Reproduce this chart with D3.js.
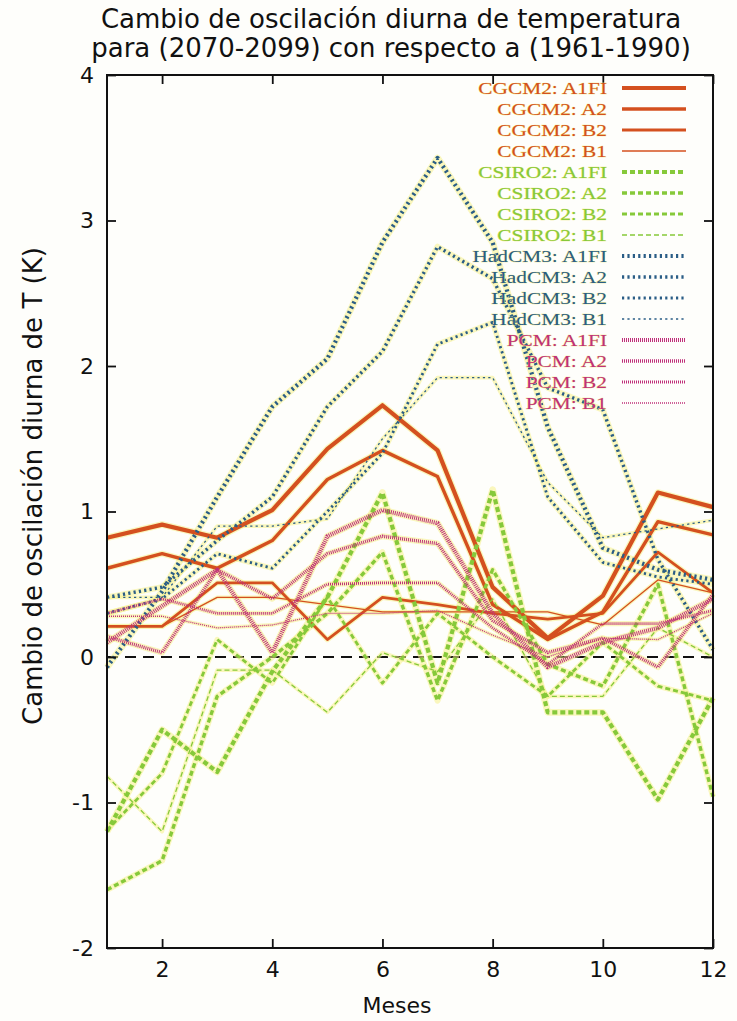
<!DOCTYPE html>
<html>
<head>
<meta charset="utf-8">
<script src="https://cdn.jsdelivr.net/npm/d3@7"></script>
<style>
  html, body { margin: 0; padding: 0; background: #fefefb; }
  svg { display: block; }
</style>
</head>
<body>
<svg id="chart" width="737" height="1021"></svg>
<script>
// Months on the x axis
const months = [1, 2, 3, 4, 5, 6, 7, 8, 9, 10, 11, 12];
const xTicks = [2, 4, 6, 8, 10, 12];
const yTicks = [-2, -1, 0, 1, 2, 3, 4];

// Change in diurnal temperature range (K), by model and scenario
const cgcm2_A1FI = [0.82, 0.91, 0.82, 1.01, 1.43, 1.73, 1.42, 0.48, 0.13, 0.42, 1.13, 1.03];
const cgcm2_A2   = [0.61, 0.71, 0.61, 0.80, 1.22, 1.42, 1.24, 0.36, 0.12, 0.31, 0.93, 0.84];
const cgcm2_B2   = [0.21, 0.21, 0.51, 0.51, 0.12, 0.41, 0.36, 0.30, 0.26, 0.30, 0.72, 0.44];
const cgcm2_B1   = [0.21, 0.21, 0.41, 0.41, 0.36, 0.31, 0.31, 0.31, 0.31, 0.22, 0.53, 0.44];

const csiro2_A1FI = [-1.20, -0.50, -0.79, -0.10, 0.41, 1.13, -0.18, 1.15, -0.38, -0.38, -0.98, -0.28];
const csiro2_A2   = [-1.60, -1.40, -0.27, 0.00, 0.30, 0.72, -0.30, 0.60, -0.05, -0.20, 0.50, -0.96];
const csiro2_B2   = [-1.19, -0.80, 0.12, -0.18, 0.41, -0.18, 0.30, 0.00, -0.27, 0.10, -0.20, -0.30];
const csiro2_B1   = [-0.82, -1.20, -0.09, -0.09, -0.38, 0.03, -0.10, 0.40, -0.27, -0.27, 0.20, 0.00];

const hadcm3_A1FI = [-0.07, 0.45, 1.10, 1.72, 2.05, 2.85, 3.43, 2.85, 1.58, 0.75, 0.60, 0.53];
const hadcm3_A2   = [0.41, 0.48, 0.80, 1.10, 1.72, 2.10, 2.82, 2.60, 1.85, 1.70, 0.67, 0.05];
const hadcm3_B2   = [0.30, 0.40, 0.71, 0.61, 1.00, 1.40, 2.15, 2.30, 1.10, 0.65, 0.55, 0.50];
const hadcm3_B1   = [0.41, 0.41, 0.90, 0.90, 0.95, 1.50, 1.92, 1.92, 1.20, 0.82, 0.88, 0.94];

const pcm_A1FI = [0.10, 0.35, 0.60, 0.03, 0.83, 1.01, 0.92, 0.30, -0.07, 0.10, 0.20, 0.40];
const pcm_A2   = [0.14, 0.03, 0.60, 0.40, 0.71, 0.83, 0.78, 0.25, 0.03, 0.13, -0.07, 0.43];
const pcm_B2   = [0.30, 0.40, 0.30, 0.30, 0.50, 0.51, 0.51, 0.20, -0.05, 0.23, 0.23, 0.32];
const pcm_B1   = [0.28, 0.28, 0.20, 0.22, 0.30, 0.30, 0.32, 0.15, 0.00, 0.13, 0.12, 0.30];

const seriesNames = [
  "CGCM2:  A1FI", "CGCM2:  A2", "CGCM2:  B2", "CGCM2:  B1",
  "CSIRO2:  A1FI", "CSIRO2:  A2", "CSIRO2:  B2", "CSIRO2:  B1",
  "HadCM3:  A1FI", "HadCM3:  A2", "HadCM3:  B2", "HadCM3:  B1",
  "PCM:  A1FI", "PCM:  A2", "PCM:  B2", "PCM:  B1"
];
const seriesValues = [
  cgcm2_A1FI, cgcm2_A2, cgcm2_B2, cgcm2_B1,
  csiro2_A1FI, csiro2_A2, csiro2_B2, csiro2_B1,
  hadcm3_A1FI, hadcm3_A2, hadcm3_B2, hadcm3_B1,
  pcm_A1FI, pcm_A2, pcm_B2, pcm_B1
];

// Per-model colour and per-scenario stroke
const modelColor = ["#d4501f", "#86c93a", "#2a5d86", "#c0307a"];
const modelDash = [null, "5,3", "2.2,3.2", "1,1"];
const scenarioWidth = [4.2, 3.4, 2.8, 1.3];

const svg = d3.select("#chart");
const margin = { left: 107, right: 24, top: 75, bottom: 73 };
const W = 737, H = 1021;

const x = d3.scaleLinear().domain([1, 12]).range([margin.left, W - margin.right]);
const y = d3.scaleLinear().domain([-2, 4]).range([H - margin.bottom, margin.top]);

const font = "'DejaVu Sans', Verdana, sans-serif";

// Title
svg.append("text").attr("x", 391).attr("y", 28).attr("text-anchor", "middle")
  .style("font-family", font).style("font-size", "26px").attr("fill", "#111")
  .text("Cambio de oscilación diurna de temperatura");
svg.append("text").attr("x", 391).attr("y", 57).attr("text-anchor", "middle")
  .style("font-family", font).style("font-size", "26px").attr("fill", "#111")
  .text("para (2070-2099) con respecto a (1961-1990)");

// Zero reference line
svg.append("line")
  .attr("x1", x(1)).attr("x2", x(12)).attr("y1", y(0)).attr("y2", y(0))
  .attr("stroke", "#111").attr("stroke-width", 2).attr("stroke-dasharray", "11,7");

// Data lines, drawn over a pale glow
const line = d3.line().x((d, i) => x(months[i])).y(d => y(d));
const plot = svg.append("g");
seriesValues.forEach((vals, k) => {
  const s = k % 4;
  plot.append("path").datum(vals).attr("d", line)
    .attr("fill", "none").attr("stroke", "#f6f08a").attr("stroke-opacity", 0.55)
    .attr("stroke-width", scenarioWidth[s] + 2.5).attr("stroke-linejoin", "round");
});
seriesValues.forEach((vals, k) => {
  const m = Math.floor(k / 4), s = k % 4;
  plot.append("path").datum(vals).attr("d", line)
    .attr("fill", "none").attr("stroke", modelColor[m])
    .attr("stroke-width", scenarioWidth[s])
    .attr("stroke-dasharray", modelDash[m])
    .attr("stroke-linejoin", "round");
});

// Axes: ticks inside on all four sides
const axisLeft = d3.axisLeft(y).tickValues(yTicks).tickSize(-9).tickPadding(13).tickFormat(d => String(d));
const axisRight = d3.axisRight(y).tickValues(yTicks).tickSize(-9).tickFormat("");
const axisBottom = d3.axisBottom(x).tickValues(xTicks).tickSize(-9).tickPadding(13);
const axisTop = d3.axisTop(x).tickValues(xTicks).tickSize(-9).tickFormat("");

function styleAxis(g) {
  g.select(".domain").remove();
  g.selectAll("line").attr("stroke", "#111").attr("stroke-width", 1.8);
  g.selectAll("text").style("font-family", font).style("font-size", "22px").attr("fill", "#111");
}
svg.append("g").attr("transform", `translate(${margin.left},0)`).call(axisLeft).call(styleAxis);
svg.append("g").attr("transform", `translate(${W - margin.right},0)`).call(axisRight).call(styleAxis);
svg.append("g").attr("transform", `translate(0,${H - margin.bottom})`).call(axisBottom).call(styleAxis);
svg.append("g").attr("transform", `translate(0,${margin.top})`).call(axisTop).call(styleAxis);

svg.append("rect")
  .attr("x", x(1)).attr("y", y(4)).attr("width", x(12) - x(1)).attr("height", y(-2) - y(4))
  .attr("fill", "none").attr("stroke", "#111").attr("stroke-width", 2);

// Axis titles
svg.append("text").attr("x", 397).attr("y", 1013).attr("text-anchor", "middle")
  .style("font-family", font).style("font-size", "22px").attr("fill", "#111").text("Meses");
svg.append("text")
  .attr("transform", `translate(42,486) rotate(-90)`)
  .attr("text-anchor", "middle")
  .style("font-family", font).style("font-size", "26px").attr("fill", "#111")
  .text("Cambio de oscilación diurna de T (K)");

// Legend: wide serif labels, right-aligned against the sample strokes
const legend = svg.append("g");
const legendTop = 88, legendStep = 21;
seriesNames.forEach((name, k) => {
  const m = Math.floor(k / 4), s = k % 4;
  const ly = legendTop + k * legendStep;
  legend.append("text")
    .attr("transform", `translate(607,${ly + 6}) scale(1.22,1)`)
    .attr("text-anchor", "end")
    .style("font-family", "'Liberation Serif', 'Times New Roman', serif")
    .style("font-size", "17.5px").attr("fill", modelColor[m])
    .attr("stroke", "#f3ec8a").attr("stroke-width", 0.7).attr("paint-order", "stroke")
    .text(name);
  legend.append("line").attr("x1", 622).attr("x2", 686).attr("y1", ly).attr("y2", ly)
    .attr("stroke", modelColor[m]).attr("stroke-width", scenarioWidth[s])
    .attr("stroke-dasharray", modelDash[m]);
});
</script>
</body>
</html>
